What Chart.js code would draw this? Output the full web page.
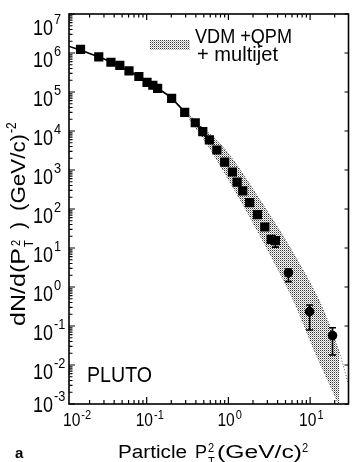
<!DOCTYPE html>
<html>
<head>
  <meta charset="UTF-8">
  <title>PLUTO pT2 spectrum</title>
  <script src="https://cdn.jsdelivr.net/npm/chart.js@4.4.0/dist/chart.umd.min.js"></script>
  <style>
    body { margin: 0; background: #fff; }
    canvas { display: block; }
  </style>
</head>
<body>
<canvas id="chart" width="355" height="462"></canvas>
<script>
// measured points: dN/d(pT^2) against particle pT^2
var ptX = [0.0155, 0.0259, 0.0365, 0.0469, 0.0607, 0.0802, 0.101, 0.119, 0.136, 0.202,
           0.292, 0.393, 0.486, 0.585, 0.723, 0.901, 1.12, 1.28, 1.50, 1.82,
           2.27, 2.79, 3.34, 3.76, 5.43, 9.86, 18.8];
var ptY = [1.24e6, 8.0e5, 5.8e5, 4.8e5, 3.5e5, 2.5e5, 1.77e5, 1.49e5, 1.24e5, 6.9e4,
           3.0e4, 1.63e4, 9.6e3, 5.9e3, 3.26e3, 1.6e3, 890, 490, 290, 145,
           72, 34.5, 16.7, 15.4, 2.29, 0.233, 0.057];
// error bars (null = hidden under the marker)
var errLo = [null, null, null, null, null, null, null, null, null, null,
             null, null, null, null, null, null, null, null, null, null,
             null, null, null, 10.5, 1.37, 0.079, 0.018];
var errHi = [null, null, null, null, null, null, null, null, null, null,
             null, null, null, null, null, null, null, null, null, null,
             null, null, null, 15.4, 2.9, 0.345, 0.090];

// solid curve at low pT^2
var lineX = [0.0112, 0.02, 0.04, 0.08, 0.14, 0.2, 0.29];
var lineY = [1.5e6, 9.7e5, 5.4e5, 2.5e5, 1.2e5, 7.0e4, 3.1e4];

// VDM + QPM + multijet band, lower and upper edge
var bandLowX = [0.29, 0.607, 1.40, 3.03, 6.24, 11.2, 20.6, 22.6];
var bandLowY = [3.1e4, 3.26e3, 170, 8.9, 0.46, 0.0243, 0.00143, 0.0009];
var bandHighX = [0.30, 0.92, 2.43, 5.90, 12.8, 22.3, 31.2];
var bandHighY = [3.1e4, 3.26e3, 170, 8.9, 0.46, 0.0243, 0.002];

var xTickExp = [-2, -1, 0, 1];
var yTickExp = [7, 6, 5, 4, 3, 2, 1, 0, -1, -2, -3];
var legendLines = ['VDM +QPM', '+ multijet'];

function zip(xs, ys) {
  return xs.map(function (x, i) { return { x: x, y: ys[i] }; });
}

// stipple fill like the printed band
var pc = document.createElement('canvas');
pc.width = 2; pc.height = 2;
var pctx = pc.getContext('2d');
pctx.fillStyle = '#fff'; pctx.fillRect(0, 0, 2, 2);
pctx.fillStyle = '#333'; pctx.fillRect(0, 0, 1, 1);
pctx.fillStyle = '#aaa'; pctx.fillRect(1, 1, 1, 1);
var stipple = pctx.createPattern(pc, 'repeat');

var FONT = '"Liberation Sans", Arial, sans-serif';

function txt(ctx, s, x, y, size, sx, align, bold) {
  ctx.save();
  ctx.font = (bold ? 'bold ' : '') + size + 'px ' + FONT;
  var w = ctx.measureText(s).width * sx;
  var x0 = align === 'right' ? x - w : (align === 'center' ? x - w / 2 : x);
  ctx.translate(x0, y);
  ctx.scale(sx, 1);
  ctx.textAlign = 'left';
  ctx.textBaseline = 'alphabetic';
  ctx.fillStyle = '#000';
  ctx.fillText(s, 0, 0);
  ctx.restore();
  return x0 + w;
}

function fit(ctx, s, x, y, size, w, bold) {
  ctx.save();
  ctx.font = (bold ? 'bold ' : '') + size + 'px ' + FONT;
  var sx = w / ctx.measureText(s).width;
  ctx.restore();
  return txt(ctx, s, x, y, size, sx, 'left', bold);
}

function niceTick(v) {
  var r = v / Math.pow(10, Math.floor(Math.log10(v) + 1e-9));
  return Math.abs(r - Math.round(r)) < 1e-6;
}
function decade(v) {
  var l = Math.log10(v);
  return Math.abs(l - Math.round(l)) < 1e-6;
}

var paper = {
  id: 'paper',
  afterDatasetsDraw: function (chart) {
    var ctx = chart.ctx, xs = chart.scales.x, ys = chart.scales.y;
    ctx.save();
    ctx.strokeStyle = '#000';
    ctx.lineWidth = 1.6;
    for (var i = 0; i < ptX.length; i++) {
      if (errLo[i] == null) continue;
      var px = xs.getPixelForValue(ptX[i]);
      var y1 = ys.getPixelForValue(errHi[i]);
      var y2 = ys.getPixelForValue(errLo[i]);
      ctx.beginPath();
      ctx.moveTo(px, y1); ctx.lineTo(px, y2);
      ctx.moveTo(px - 3.5, y1); ctx.lineTo(px + 3.5, y1);
      ctx.moveTo(px - 3.5, y2); ctx.lineTo(px + 3.5, y2);
      ctx.stroke();
    }
    ctx.restore();
  },
  afterDraw: function (chart) {
    var ctx = chart.ctx, a = chart.chartArea, xs = chart.scales.x, ys = chart.scales.y;
    ctx.save();
    ctx.strokeStyle = '#000';
    ctx.lineWidth = 1.6;
    ctx.strokeRect(a.left, a.top, a.right - a.left, a.bottom - a.top);

    ctx.lineWidth = 1.2;
    ctx.beginPath();
    ys.ticks.forEach(function (t) {
      if (!niceTick(t.value)) return;
      var p = ys.getPixelForValue(t.value);
      if (p < a.top - 0.5 || p > a.bottom + 0.5) return;
      var big = decade(t.value);
      ctx.moveTo(a.left, p); ctx.lineTo(a.left + (big ? 6 : 3.5), p);
      if (big) { ctx.moveTo(a.right, p); ctx.lineTo(a.right - 4, p); }
    });
    xs.ticks.forEach(function (t) {
      if (!niceTick(t.value)) return;
      var p = xs.getPixelForValue(t.value);
      if (p < a.left - 0.5 || p > a.right + 0.5) return;
      var big = decade(t.value);
      ctx.moveTo(p, a.bottom); ctx.lineTo(p, a.bottom - (big ? 7 : 4));
      ctx.moveTo(p, a.top); ctx.lineTo(p, a.top + (big ? 6 : 3.5));
    });
    ctx.stroke();

    // y tick labels
    yTickExp.forEach(function (e) {
      var p = ys.getPixelForValue(Math.pow(10, e));
      var base = p + 14;
      if (e === 7) base = p + 21;
      if (e === -3) base = p + 8;
      txt(ctx, '10', 53, base, 22, 0.82, 'right');
      txt(ctx, e < 0 ? '-' + (-e) : String(e), 54, base - 11, 15, 0.85, 'left');
    });
    // x tick labels
    xTickExp.forEach(function (e) {
      var p = xs.getPixelForValue(Math.pow(10, e));
      var left = Math.max(p - 11, 63);
      var end = txt(ctx, '10', left, 426, 19, 0.82, 'left');
      txt(ctx, e < 0 ? '-' + (-e) : String(e), end + 1, 419, 13, 0.85, 'left');
    });

    // x axis title
    fit(ctx, 'Particle', 118, 458, 18, 69);
    fit(ctx, 'P', 195, 458, 18, 12);
    txt(ctx, '2', 208, 452, 13, 0.85, 'left');
    txt(ctx, 'T', 208, 466, 13, 0.85, 'left');
    fit(ctx, '(GeV/c)', 217, 458, 18, 85);
    txt(ctx, '2', 302, 452, 13, 0.85, 'left');

    // y axis title, reading upwards
    ctx.save();
    ctx.translate(25, 326);
    ctx.rotate(-Math.PI / 2);
    fit(ctx, 'dN/d(P', 0, 0, 21, 78);
    txt(ctx, '2', 80, -5, 13, 0.85, 'left');
    txt(ctx, 'T', 79, 8, 13, 0.85, 'left');
    fit(ctx, ')', 97, 0, 21, 7);
    fit(ctx, '(GeV/c)', 115, 0, 21, 77);
    txt(ctx, '-2', 193, -9, 14, 0.85, 'left');
    ctx.restore();

    // legend
    ctx.fillStyle = stipple;
    ctx.fillRect(150, 40, 40, 10);
    fit(ctx, legendLines[0], 195, 43, 20, 97);
    fit(ctx, legendLines[1], 197, 61, 20, 81);

    fit(ctx, 'PLUTO', 87, 382, 22, 65);
    txt(ctx, 'a', 15, 458, 15, 1, 'left', true);
    ctx.restore();
  }
};

new Chart(document.getElementById('chart'), {
  type: 'line',
  data: {
    datasets: [{
      label: 'band low',
      data: zip(bandLowX, bandLowY),
      borderColor: '#555',
      borderWidth: 1,
      borderDash: [1, 2],
      pointRadius: 0,
      fill: false,
      tension: 0.3,
      order: 3
    }, {
      label: 'VDM+QPM+multijet',
      data: zip(bandHighX, bandHighY),
      borderColor: '#555',
      borderWidth: 1,
      borderDash: [1, 2],
      pointRadius: 0,
      fill: '-1',
      backgroundColor: stipple,
      tension: 0.3,
      order: 2
    }, {
      label: 'fit',
      data: zip(lineX, lineY),
      borderColor: '#000',
      borderWidth: 1.6,
      pointRadius: 0,
      fill: false,
      tension: 0.4,
      order: 1
    }, {
      label: 'PLUTO',
      data: zip(ptX, ptY),
      showLine: false,
      pointStyle: function (c) { return c.dataIndex >= 24 ? 'circle' : 'rect'; },
      pointRadius: function (c) { return c.dataIndex >= 24 ? 4.8 : 6.5; },
      backgroundColor: '#000',
      borderColor: '#000',
      borderWidth: 0,
      order: 0
    }]
  },
  options: {
    responsive: false,
    animation: false,
    devicePixelRatio: 1,
    layout: { padding: { left: 69, right: 2, top: 14, bottom: 58 } },
    plugins: { legend: { display: false }, tooltip: { enabled: false } },
    scales: {
      x: {
        type: 'logarithmic', min: 0.0112, max: 29.5,
        grid: { display: false, drawTicks: false },
        border: { display: false },
        ticks: { display: false }
      },
      y: {
        type: 'logarithmic', min: 1e-3, max: 1e7,
        grid: { display: false, drawTicks: false },
        border: { display: false },
        ticks: { display: false }
      }
    }
  },
  plugins: [paper]
});
</script>
</body>
</html>
